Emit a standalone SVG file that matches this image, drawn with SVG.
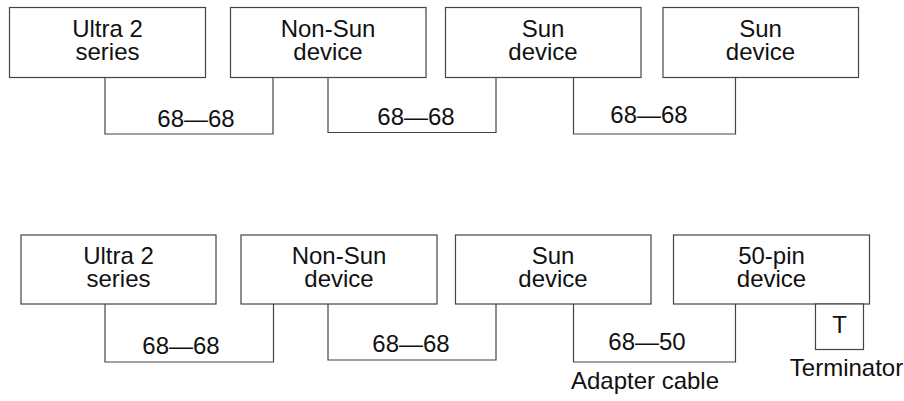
<svg xmlns="http://www.w3.org/2000/svg" width="904" height="401" viewBox="0 0 904 401">
<style>
.box{fill:#fff;stroke:#444;stroke-width:1.2}
.cable{fill:none;stroke:#444;stroke-width:1.2}
text{font-family:"Liberation Sans",Arial,sans-serif;font-size:24px;fill:#111;text-anchor:middle}
</style>
<rect width="904" height="401" fill="#fff"/>
<g id="connectors">
<polyline class="cable" points="105,77 105,134 273,134 273,77"/>
<polyline class="cable" points="328,77 328,132.5 496,132.5 496,77"/>
<polyline class="cable" points="573.5,77 573.5,134 735.5,134 735.5,77"/>
<polyline class="cable" points="105,304 105,362 273.5,362 273.5,304"/>
<polyline class="cable" points="328,304 328,360 496,360 496,304"/>
<polyline class="cable" points="573.5,304 573.5,362 735.5,362 735.5,304"/>
<text x="196" y="127">68—68</text>
<text x="416" y="124.5">68—68</text>
<text x="649" y="122.5">68—68</text>
<text x="181" y="353.5">68—68</text>
<text x="411" y="352">68—68</text>
<text x="647" y="350">68—50</text>
<text x="645" y="389">Adapter cable</text>
</g>
<g id="top-ultra2"><rect class="box" x="9.5" y="7.5" width="196" height="70"/><text x="107.5" y="37.3">Ultra 2</text><text x="107.5" y="60">series</text></g>
<g id="top-nonsun"><rect class="box" x="230.5" y="7.5" width="195.5" height="70"/><text x="328" y="37.3">Non-Sun</text><text x="328" y="60">device</text></g>
<g id="top-sun1"><rect class="box" x="445.5" y="7.5" width="195.5" height="70"/><text x="543" y="37.3">Sun</text><text x="543" y="60">device</text></g>
<g id="top-sun2"><rect class="box" x="663" y="7.5" width="195.5" height="70"/><text x="760.5" y="37.3">Sun</text><text x="760.5" y="60">device</text></g>
<g id="bot-ultra2"><rect class="box" x="21" y="235" width="195" height="69"/><text x="118.5" y="264">Ultra 2</text><text x="118.5" y="287">series</text></g>
<g id="bot-nonsun"><rect class="box" x="241" y="235" width="196" height="69"/><text x="339" y="264">Non-Sun</text><text x="339" y="287">device</text></g>
<g id="bot-sun"><rect class="box" x="455.5" y="235" width="195.5" height="69"/><text x="553" y="264">Sun</text><text x="553" y="287">device</text></g>
<g id="bot-50pin"><rect class="box" x="673.5" y="235" width="196" height="69"/><text x="771.5" y="264">50-pin</text><text x="771.5" y="287">device</text></g>
<g id="terminator"><rect class="box" x="815.5" y="304" width="48" height="45.5"/><text x="839.5" y="333">T</text><text x="846.5" y="376">Terminator</text></g>
</svg>
